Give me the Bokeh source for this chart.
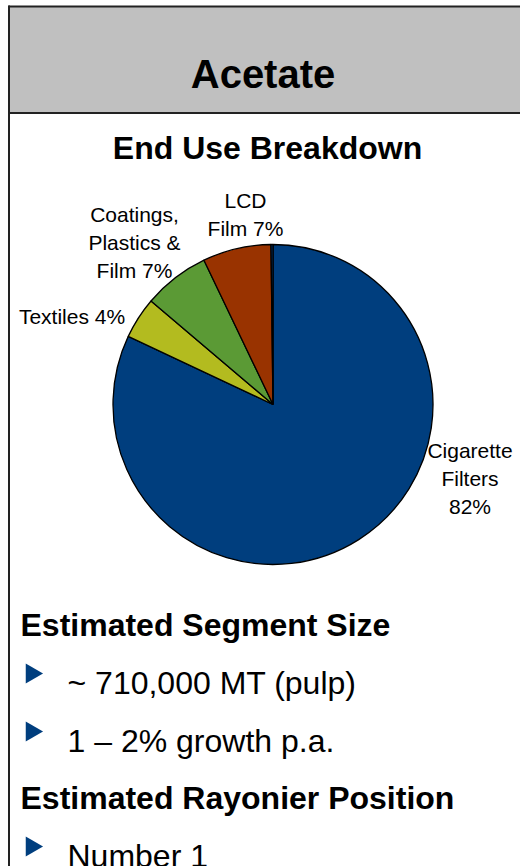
import numpy as np
from bokeh.plotting import figure
from bokeh.models import Range1d
from bokeh.core.properties import value
from bokeh.embed import file_html
from bokeh.resources import INLINE

# ---------------- data ----------------
categories = ["Cigarette Filters", "Textiles", "Coatings, Plastics & Film", "LCD Film", "Other"]
shares = [82.0, 4.2, 6.7, 6.9, 0.2]
colors = ["#003E7E", "#B3BB1F", "#5B9A35", "#993300", "#003E7E"]
pie_labels = ["Cigarette\nFilters\n82%", "Textiles 4%", "Coatings,\nPlastics &\nFilm 7%", "LCD\nFilm 7%", ""]

title = "Acetate"
subtitle = "End Use Breakdown"
section_titles = ["Estimated Segment Size", "Estimated Rayonier Position"]
bullets = ["~ 710,000 MT (pulp)", "1 \u2013 2% growth p.a.", "Number 1"]

# ---------------- layout (page pixels) ----------------
W, H = 520, 866
def Y(yp):
    return H - yp

p = figure(width=W, height=H, output_backend="svg", toolbar_location=None,
           x_range=Range1d(0, W), y_range=Range1d(0, H),
           min_border=0, outline_line_color=None)
p.axis.visible = False
p.grid.visible = False
p.background_fill_color = "white"
p.border_fill_color = "white"

FONT = value("Liberation Sans")

# header band and frame
p.quad(left=[8], right=[W + 5], top=[Y(6)], bottom=[Y(112)],
       fill_color="#C0C0C0", line_color=None)
p.segment(x0=[8, 8, 8.5], y0=[Y(6), Y(112.5), Y(5)],
          x1=[W + 5, W + 5, 8.5], y1=[Y(6), Y(112.5), Y(H + 5)],
          line_color="#222222", line_width=2)

p.text(x=[262.5], y=[Y(73)], text=[title], text_font=FONT, text_font_style="bold",
       text_font_size="40px", text_align="center", text_baseline="alphabetic", text_color="black")
p.text(x=[267], y=[Y(147)], text=[subtitle], text_font=FONT, text_font_style="bold",
       text_font_size="32px", text_align="center", text_baseline="alphabetic", text_color="black")

# ---------------- pie ----------------
cx, cy, r = 272.5, 404, 160
vals = np.array(shares, dtype=float)
frac = vals / vals.sum()
cum = np.concatenate([[0.0], np.cumsum(frac)])
start = np.pi / 2 - 2 * np.pi * cum[1:]
end = np.pi / 2 - 2 * np.pi * cum[:-1]
p.wedge(x=cx, y=Y(cy), radius=r, start_angle=start, end_angle=end,
        fill_color=colors, line_color="black", line_width=1.3)

# pie labels (centre x, centre y of text block)
lab_x = [469.5, 71.5, 134, 245, 0]
lab_y = [478, 316, 242, 214, 0]
keep = [i for i, t in enumerate(pie_labels) if t]
p.text(x=[lab_x[i] for i in keep], y=[Y(lab_y[i]) for i in keep],
       text=[pie_labels[i] for i in keep], text_font=FONT, text_font_size="21px",
       text_align="center", text_baseline="middle", text_line_height=1.2,
       text_color="black")

# ---------------- text section ----------------
p.text(x=[20, 20], y=[Y(624), Y(797)], text=section_titles, text_font=FONT,
       text_font_style="bold", text_font_size="32px", text_align="left",
       text_baseline="alphabetic", text_color="black")
bullet_base = [682, 740, 855]
p.scatter(x=[31] * len(bullets), y=[Y(b - 9) for b in bullet_base], marker="triangle",
          angle=-np.pi / 2, size=20, fill_color="#003E7E", line_color=None)
p.text(x=[67] * len(bullets), y=[Y(b) for b in bullet_base], text=bullets, text_font=FONT,
       text_font_size="32px", text_align="left", text_baseline="alphabetic", text_color="black")

open("out.html", "w").write(file_html(p, INLINE))
